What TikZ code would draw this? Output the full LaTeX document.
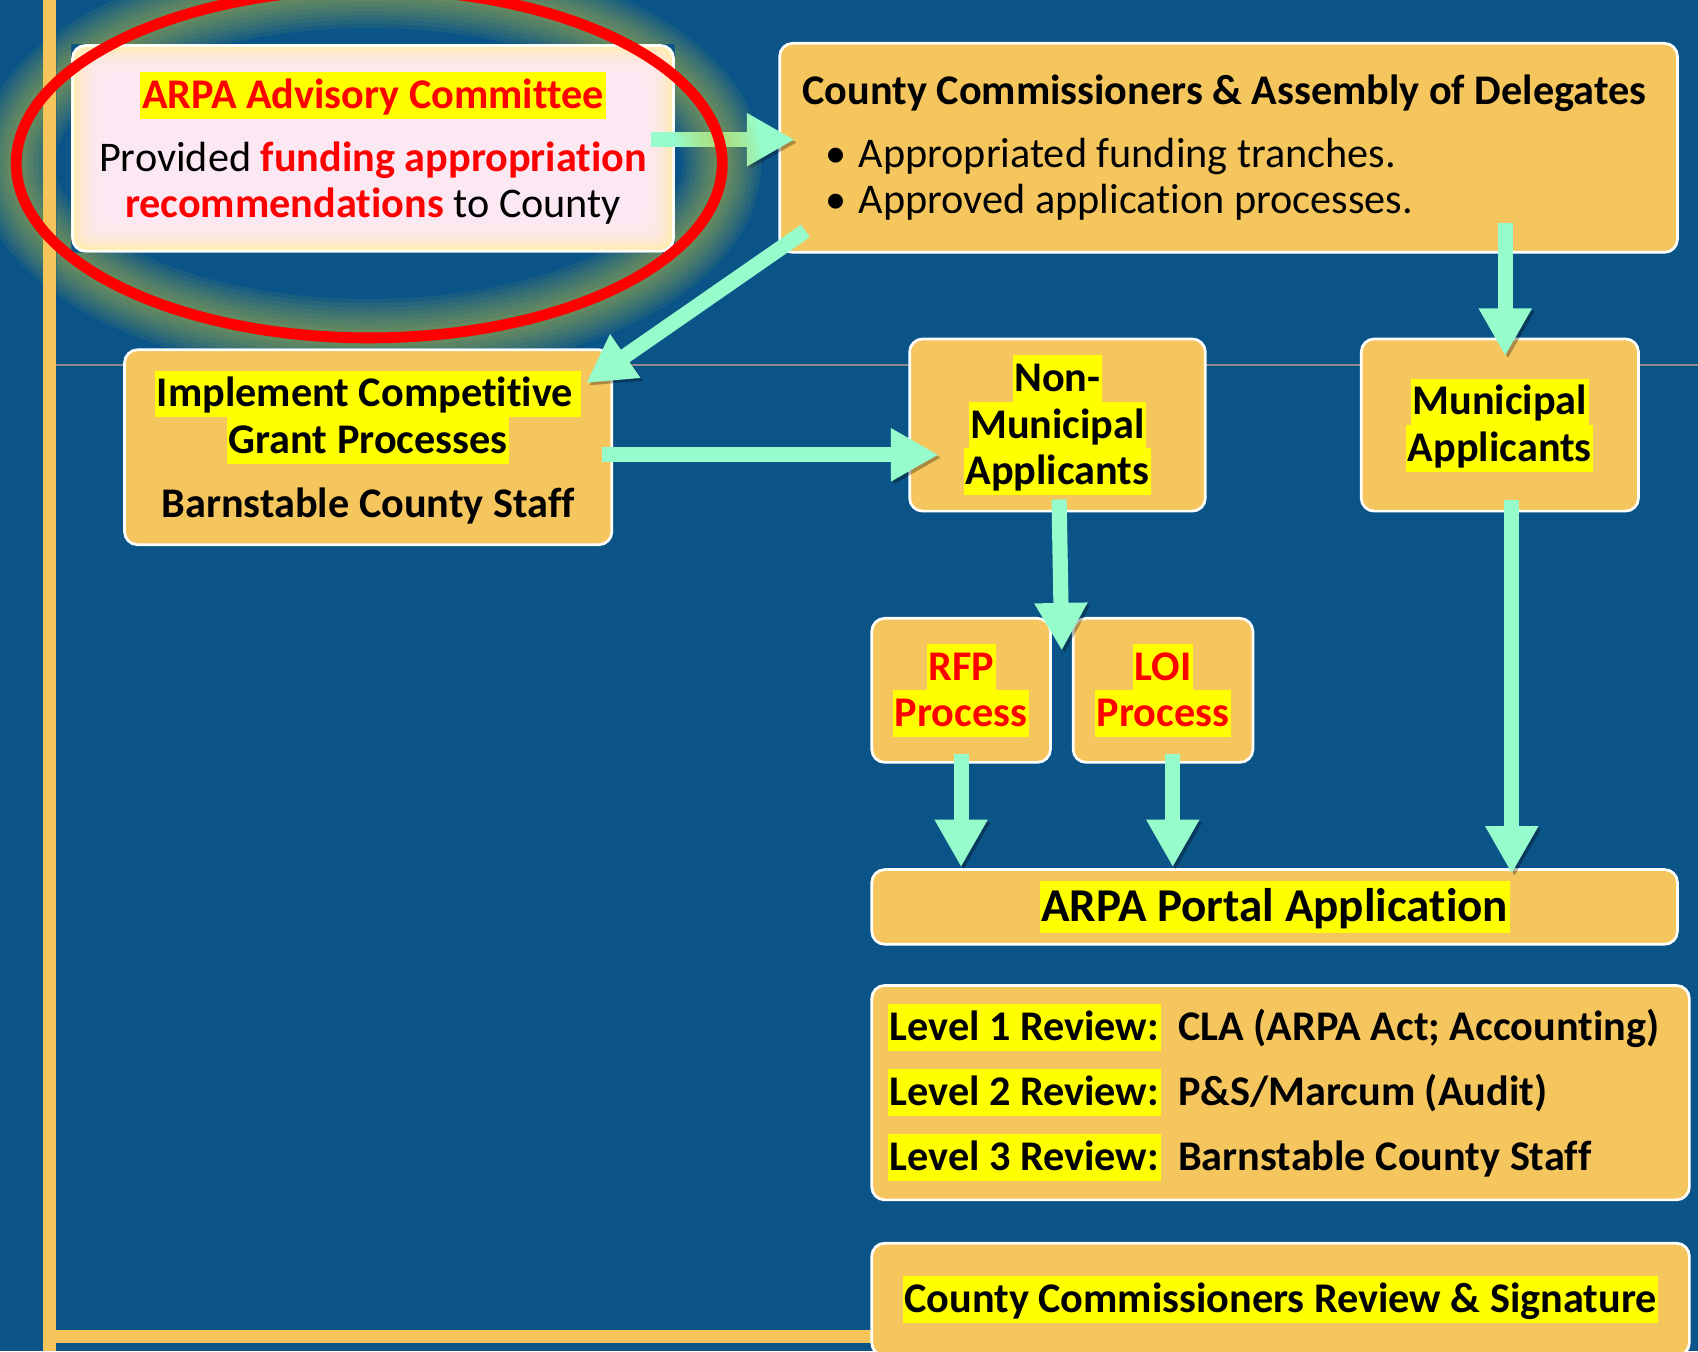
\documentclass[tikz,border=0pt]{standalone}
\usepackage{fontspec}
\setmainfont{Carlito}[Ligatures=NoCommon]
\usetikzlibrary{arrows.meta,calc}
\definecolor{bgblue}{RGB}{11,84,135}
\definecolor{boxc}{RGB}{245,197,94}
\definecolor{hly}{RGB}{255,255,0}
\definecolor{hred}{RGB}{255,0,0}
\definecolor{mint}{RGB}{150,252,204}
\definecolor{advpink}{RGB}{252,232,250}
\definecolor{advcream}{RGB}{255,236,180}
\definecolor{glowc}{RGB}{200,200,60}
\definecolor{barc}{RGB}{246,198,92}
\definecolor{grayline}{RGB}{140,140,140}
\newcommand{\hlstrut}{\rule[-0.24em]{0pt}{1.1em}}
\newcommand{\hl}[1]{{\setlength{\fboxsep}{0pt}\colorbox{hly}{\hlstrut\kern1.5pt#1\kern1.5pt}}}
\lineskiplimit=-10pt
\begin{document}
\begin{tikzpicture}[x=1pt,y=-1pt,
  box/.style={draw=white, line width=2.5pt, fill=boxc, rounded corners=12pt, inner sep=0pt, align=center,
    font=\fontsize{39}{43}\selectfont\bfseries},
  arr/.style={draw=mint, line width=14pt, -{Triangle[width=46pt,length=44pt]},
    preaction={draw=black, opacity=0.3, transform canvas={shift={(2.5pt,-2.5pt)}}}},
]
\useasboundingbox (0,0) rectangle (1568,1248);
\fill[bgblue] (0,0) rectangle (1568,1248);
\draw[grayline, line width=1.5pt] (52,337) -- (1568,337);
\fill[barc] (40,0) rectangle (52,1248);
\fill[barc] (40,1228) rectangle (820,1240);

% boxes
\node[box, fill=advcream, minimum width=555pt, minimum height=190pt, font=\fontsize{39}{43}\selectfont,
  path picture={\foreach \i in {4,8,...,28}{\fill[advpink, opacity=0.3, rounded corners=12pt]
    ([shift={(\i pt,-\i pt)}]path picture bounding box.north west) rectangle
    ([shift={(-\i pt,\i pt)}]path picture bounding box.south east);}}]
  (adv) at (344.5,137) {\hl{\textcolor{hred}{\bfseries ARPA Advisory Committee}}\\[15pt]
  Provided \textcolor{hred}{\bfseries funding appropriation}\\
  \textcolor{hred}{\bfseries recommendations} to County};

\node[box, minimum width=829pt, minimum height=193pt, align=left] (cc) at (1134.5,136.5)
  {\makebox[787pt][l]{County Commissioners \& Assembly of Delegates}\\[15pt]
  \makebox[787pt][l]{\mdseries\hspace*{21pt}\makebox[31pt][l]{\textbullet}Appropriated funding tranches.}\\
  \makebox[787pt][l]{\mdseries\hspace*{21pt}\makebox[31pt][l]{\textbullet}Approved application processes.}};

\node[box, minimum width=450pt, minimum height=180pt] (impl) at (340,413)
  {\hl{Implement Competitive\kern6pt}\\\hl{Grant Processes}\\[16pt]Barnstable County Staff};

\node[box, minimum width=273pt, minimum height=159pt] (nonmun) at (976.5,392.5)
  {\hl{Non-}\\\hl{Municipal}\\\hl{Applicants}};

\node[box, minimum width=256pt, minimum height=159pt] (mun) at (1385,392.5)
  {\hl{Municipal}\\\hl{Applicants}};

\node[box, minimum width=165pt, minimum height=133pt, text=hred] (rfp) at (887.5,637.5)
  {\hl{RFP}\\\hl{Process}};
\node[box, minimum width=166pt, minimum height=133pt, text=hred] (loi) at (1074,637.5)
  {\hl{LOI}\\\hl{Process}};

\node[box, minimum width=744pt, minimum height=69pt, font=\fontsize{43.5}{48}\selectfont\bfseries] (portal) at (1177,837.5)
  {\hl{ARPA Portal Application}};

\node[box, minimum width=755pt, minimum height=198pt, align=left] (lev) at (1182.5,1009)
  {\makebox[725pt][l]{\makebox[268pt][l]{\hl{Level 1 Review:}}CLA (ARPA Act; Accounting)}\\[17pt]
   \makebox[725pt][l]{\makebox[268pt][l]{\hl{Level 2 Review:}}P\&S/Marcum (Audit)}\\[17pt]
   \makebox[725pt][l]{\makebox[268pt][l]{\hl{Level 3 Review:}}Barnstable County Staff}};

\node[box, minimum width=755pt, minimum height=104pt] (sig) at (1182.5,1200)
  {\hl{County Commissioners Review \& Signature}};

% arrows
\draw[arr] ([shift={(-22pt,8pt)}]adv.east) -- ([shift={(15pt,8pt)}]adv.east -| cc.west);
\draw[arr] ([shift={(25pt,21pt)}]cc.south west) -- ([shift={(-25pt,-32pt)}]impl.north east);
\draw[arr] ([shift={(-10pt,-7pt)}]impl.east) -- ([shift={(28pt,-7pt)}]impl.east -| nonmun.west);
\draw[arr] ([shift={(5pt,28pt)}]mun.north |- cc.south) -- ([shift={(5pt,-17pt)}]mun.north);
\coordinate (split) at ($(rfp.north east)!0.5!(loi.north west)$);
\draw[arr] ([shift={(1.5pt,12pt)}]nonmun.south) -- ([yshift=-31pt]split);
\draw[arr] ([yshift=9pt]rfp.south) -- ([yshift=1pt]rfp.south |- portal.north);
\draw[arr] ([shift={(9pt,9pt)}]loi.south) -- ([shift={(9pt,1pt)}]loi.south |- portal.north);
\draw[arr] ([shift={(11pt,12pt)}]mun.south) -- ([shift={(11pt,-5pt)}]mun.south |- portal.north);

% glow (outside the boxes and the bar) and ring
\begin{scope}[even odd rule]
  \clip (0,0) rectangle (1568,1248)
    (40,0) rectangle (52,1248)
    (adv.north west) rectangle (adv.south east)
    (impl.north west) rectangle (impl.south east);
  \foreach \w in {8,16,...,72}
    \draw[glowc, line width=\w pt, opacity=0.08] (341,151) ellipse [x radius=326pt, y radius=161pt];
\end{scope}
\draw[hred, line width=10pt] (341,151) ellipse [x radius=326pt, y radius=161pt];
\end{tikzpicture}
\end{document}
